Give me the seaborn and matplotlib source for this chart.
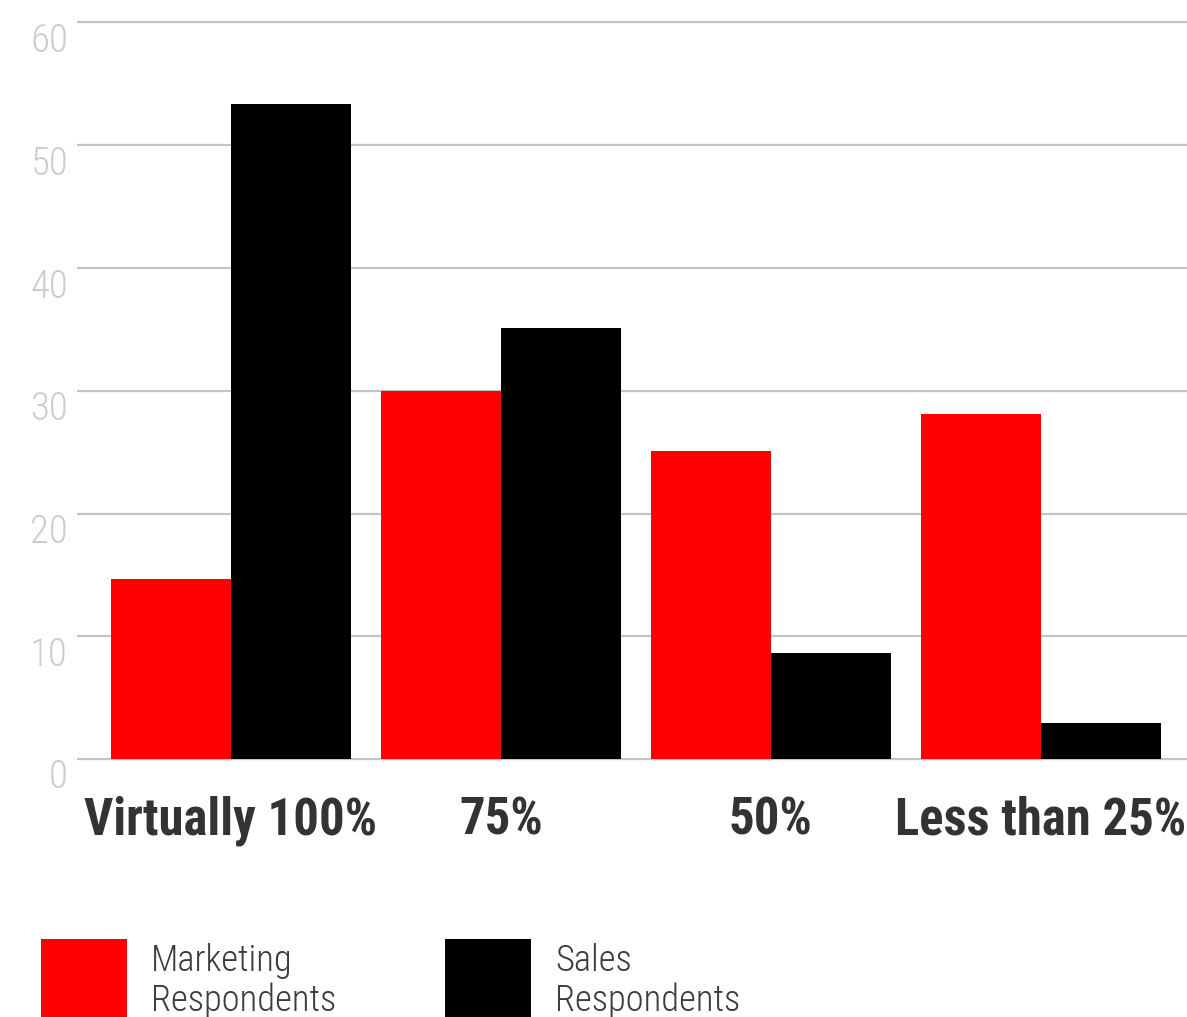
import matplotlib
matplotlib.use("Agg")
import matplotlib.pyplot as plt
from matplotlib import font_manager
from matplotlib.patches import Rectangle
import seaborn as sns
import pandas as pd

# Share of respondents per answer
categories = ["Virtually 100%", "75%", "50%", "Less than 25%"]
marketing = [14.7, 30.0, 25.1, 28.1]
sales = [53.4, 35.1, 8.6, 2.9]
groups = ["Marketing\nRespondents", "Sales\nRespondents"]
colors = ["#ff0000", "#000000"]
y_ticks = [0, 10, 20, 30, 40, 50, 60]

df = pd.DataFrame({
    "category": categories * 2,
    "value": marketing + sales,
    "group": [groups[0]] * len(categories) + [groups[1]] * len(categories),
})

# Pick a narrow sans family if one is installed
entries = font_manager.fontManager.ttflist
names = {f.name for f in entries}
font_kw = None
for fam in ["Roboto Condensed", "Liberation Sans Narrow", "Open Sans Condensed",
            "Noto Sans Condensed"]:
    if fam in names:
        font_kw = {"family": fam}
        break
if font_kw is None:
    for fam in ["Noto Sans", "Open Sans", "Roboto"]:
        if any(f.name == fam and str(f.stretch) in ("condensed", "semi-condensed")
               for f in entries):
            font_kw = {"family": fam, "stretch": "condensed"}
            break
if font_kw is None:
    font_kw = {"family": "Roboto"}

sns.set_theme(style="white")
W, H = 1187, 1017
fig = plt.figure(figsize=(W / 100, H / 100), dpi=100)
fig.patch.set_facecolor("white")

ylo, yhi = -0.5, 60.5
px_per_unit = (759 - 22.5) / 60
bot_px = 759 + (0 - ylo) * px_per_unit
top_px = 22.5 - (yhi - 60) * px_per_unit
ax = fig.add_axes([77 / W, (H - bot_px) / H, 1 - 77 / W, (bot_px - top_px) / H])

sns.barplot(data=df, x="category", y="value", hue="group", order=categories,
            hue_order=groups, palette=colors, saturation=1, width=0.889,
            gap=0, legend=False, ax=ax, zorder=3, linewidth=0, edgecolor="none")

ax.set_xlim(-0.570, 3.541)
ax.set_ylim(ylo, yhi)
ax.set_yticks(y_ticks)
ax.set_yticklabels([str(t) for t in y_ticks])
ax.set_axisbelow(True)
ax.grid(axis="y", color="#c4c4c4", linewidth=1.6)
ax.grid(axis="x", visible=False)
for s in ax.spines.values():
    s.set_visible(False)
ax.set_xlabel("")
ax.set_ylabel("")
ax.tick_params(axis="both", length=0)
ax.tick_params(axis="y", pad=6.5)
ax.tick_params(axis="x", pad=22)

for lab in ax.get_yticklabels():
    lab.set_fontproperties(font_manager.FontProperties(weight="light", size=28, **font_kw))
    lab.set_color("#cccccc")
    lab.set_verticalalignment("top")
for lab in ax.get_xticklabels():
    lab.set_fontproperties(font_manager.FontProperties(weight="bold", size=36.5, **font_kw))
    lab.set_color("#333333")

# Legend: colour swatches with two-line labels
legend_fp = font_manager.FontProperties(weight="light", size=26.3, **font_kw)
for x0, color, label in [(41, colors[0], groups[0]), (445, colors[1], groups[1])]:
    fig.patches.append(Rectangle((x0 / W, 0), 86 / W, 78 / H, transform=fig.transFigure,
                                 facecolor=color, edgecolor="none"))
    for i, line in enumerate(label.split("\n")):
        fig.text((x0 + 110) / W, (H - (971 + 40 * i)) / H, line, fontproperties=legend_fp,
                 color="#3c3c3c", ha="left", va="baseline")

fig.savefig("out.png", dpi=100, facecolor="white")
